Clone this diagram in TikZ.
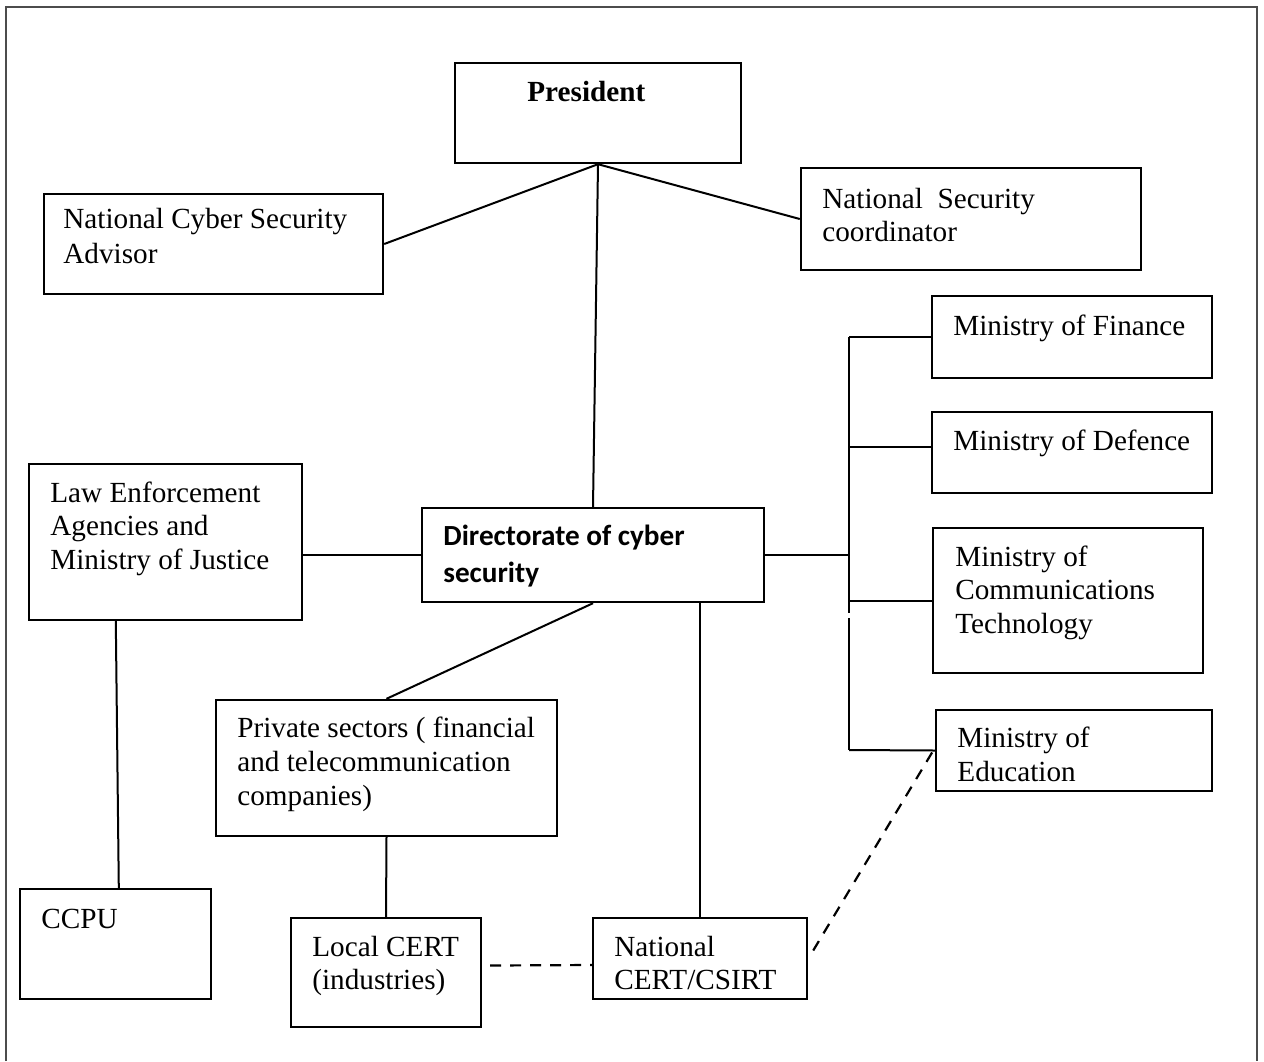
\documentclass[tikz,border=0pt]{standalone}
\usepackage{fontspec}
\setmainfont{Liberation Serif}
\newfontfamily\calfont{Carlito}
\usetikzlibrary{fit,calc}
\begin{document}
\begin{tikzpicture}[x=0.5pt,y=-0.5pt,
  bx/.style={draw, line width=1.2pt, inner sep=0pt, rectangle},
  txt/.style={anchor=base west, inner sep=0pt, align=left, font=\fontsize{14.6}{17}\selectfont},
  ln/.style={line width=1pt},
  dln/.style={line width=1.1pt, dash pattern=on 5.5pt off 4.5pt}]
\useasboundingbox (0,0) rectangle (1264,1061);
% outer frame
\draw[black!70, line width=0.6pt] (6,1061) -- (6,7) -- (1257,7) -- (1257,1061);

% boxes
\node[bx, fit={(455,63) (741,163)}] (pres) {};
\node[bx, fit={(44,194) (383,294)}] (adv) {};
\node[bx, fit={(801,168) (1141,270)}] (coord) {};
\node[bx, fit={(932,296) (1212,378)}] (fin) {};
\node[bx, fit={(932,412) (1212,493)}] (def) {};
\node[bx, fit={(933,528) (1203,673)}] (comm) {};
\node[bx, fit={(936,710) (1212,791)}] (edu) {};
\node[bx, fit={(422,508) (764,602)}] (dir) {};
\node[bx, fit={(29,464) (302,620)}] (law) {};
\node[bx, fit={(216,700) (557,836)}] (priv) {};
\node[bx, fit={(20,889) (211,999)}] (ccpu) {};
\node[bx, fit={(291,918) (481,1027)}] (local) {};
\node[bx, fit={(593,918) (807,999)}] (natcert) {};

% texts (anchor = baseline of the last line)
\node[txt, font=\fontsize{14.6}{17}\selectfont\bfseries] (pres-t) at (527,101) {President};
\node[txt, font=\fontsize{14.6}{17.5}\selectfont] (adv-t) at (63,263) {National Cyber Security\\Advisor};
\node[txt, font=\fontsize{14.6}{16.5}\selectfont] (coord-t) at (822,241) {National\ \ Security\\coordinator};
\node[txt] (fin-t) at (953,335) {Ministry of Finance};
\node[txt] (def-t) at (953,450) {Ministry of Defence};
\node[txt, font=\fontsize{14.6}{16.75}\selectfont] (comm-t) at (955,633) {Ministry of\\Communications\\Technology};
\node[txt] (edu-t) at (957,781) {Ministry of\\Education};
\node[txt, font=\fontsize{14.6}{18.5}\selectfont\calfont\bfseries] (dir-t) at (443,582) {Directorate of cyber\\security};
\node[txt, font=\fontsize{14.6}{16.75}\selectfont] (law-t) at (50,569) {Law Enforcement\\Agencies and\\Ministry of Justice};
\node[txt] (priv-t) at (237,805) {Private sectors ( financial\\and telecommunication\\companies)};
\node[txt] (ccpu-t) at (41,928) {CCPU};
\node[txt, font=\fontsize{14.6}{16.5}\selectfont] (local-t) at (312,989) {Local CERT\\(industries)};
\node[txt, font=\fontsize{14.6}{16.5}\selectfont] (nat-t) at (614,989) {National\\CERT/CSIRT};

% coordinates for the ministries bracket
\coordinate (brtop) at (849,337);
\coordinate (brdef) at (849,447);
\coordinate (brgap1) at (849,613);
\coordinate (brgap2) at (849,618);
\coordinate (brbot) at (849,750);
\coordinate (dashtop) at (933,751);

% connectors
\draw[ln] (pres.south) -- (adv.east);
\draw[ln] (pres.south) -- (coord.west);
\draw[ln] (pres.south) -- (dir.north);
\draw[ln] (dir.west) -- (dir.west -| law.east);
\draw[ln] (dir.east) -- (dir.east -| brtop);
\draw[ln] (brtop) -- (brgap1);
\draw[ln] (brgap2) -- (brbot);
\draw[ln] (brtop) -- (fin.west);
\draw[ln] (brdef) -- (brdef -| def.west);
\draw[ln] (comm.west -| brtop) -- (comm.west);
\draw[ln] (brbot) -- (edu.west);
\draw[ln] ($(law.south west)+(88,0)$) -- ($(ccpu.north west)+(100,0)$);
\draw[ln] (dir.south) -- (priv.north);
\draw[ln] (priv.south) -- (local.north);
\draw[ln] (natcert.north |- dir.south) -- (natcert.north);
\draw[dln] ($(local.east)+(8,-7)$) -- ($(natcert.west)+(0,6.5)$);
\draw[dln] ($(natcert.east)+(5,-8)$) -- (dashtop);
\end{tikzpicture}
\end{document}
